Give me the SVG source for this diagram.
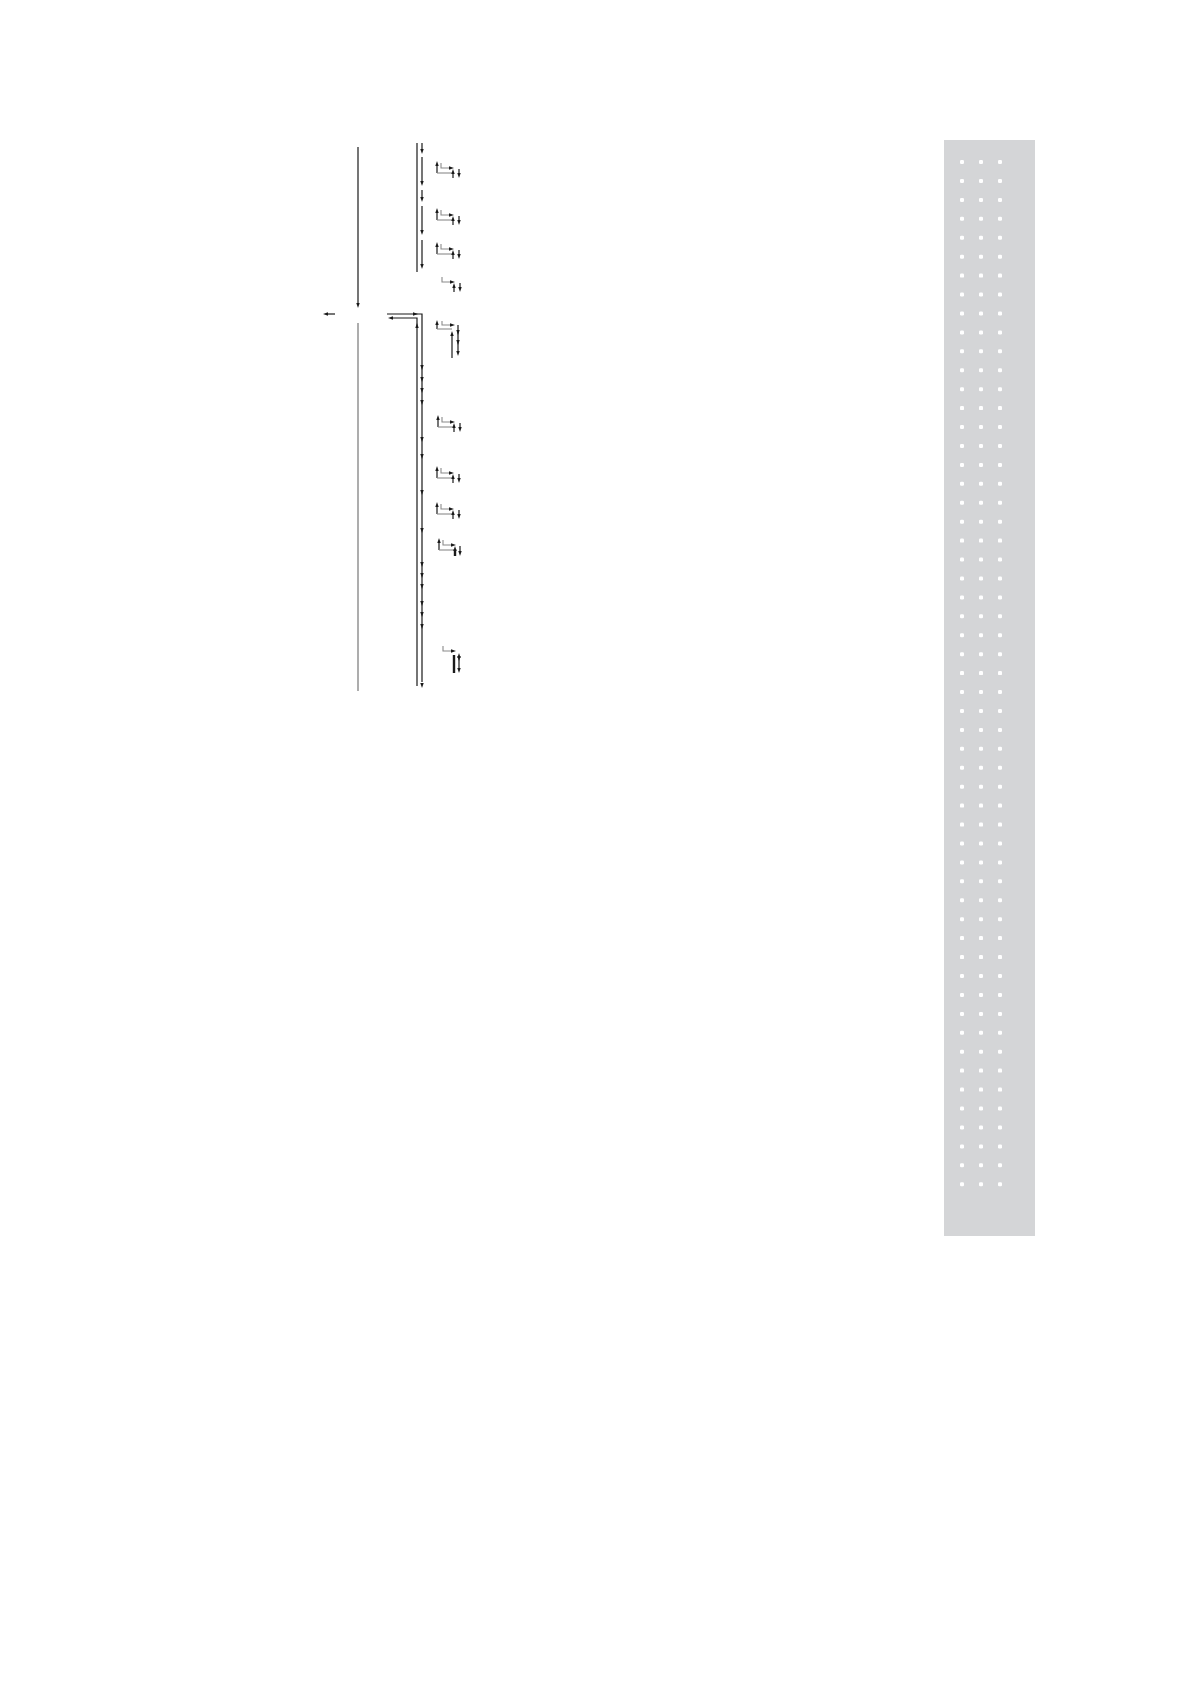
<svg xmlns="http://www.w3.org/2000/svg" xmlns:xlink="http://www.w3.org/1999/xlink" width="1190" height="1684" viewBox="0 0 1190 1684">
<style>
.ln{stroke:#1a1a1a;stroke-width:1.2;fill:none}
.gl{stroke:#8a8a8a;stroke-width:1.1;fill:none}
.lg{stroke:#6a6a6a;stroke-width:1.1;fill:none}
.ah{fill:#1a1a1a}
.dot{fill:#ffffff}
</style>
<defs>
<path id="ad" class="ah" d="M-1.7,-5 L1.7,-5 L0,0 Z"/>
<path id="au" class="ah" d="M-1.7,5 L1.7,5 L0,0 Z"/>
<path id="ar" class="ah" d="M-5,-1.7 L-5,1.7 L0,0 Z"/>
<path id="al" class="ah" d="M5,-1.7 L5,1.7 L0,0 Z"/>
<g id="row">
<rect class="dot" x="960" y="-2" width="4" height="4" rx="1.2"/>
<rect class="dot" x="979" y="-2" width="4" height="4" rx="1.2"/>
<rect class="dot" x="998" y="-2" width="4" height="4" rx="1.2"/>
</g>
<g id="icon">
<line class="ln" x1="0" y1="3" x2="0" y2="12"/>
<use xlink:href="#au" x="0" y="0"/>
<polyline class="gl" points="4,2 4,7 13,7"/>
<use xlink:href="#ar" x="17" y="7"/>
<line class="gl" x1="0" y1="12" x2="15" y2="12"/>
<line class="ln" x1="16" y1="11" x2="16" y2="17"/>
<use xlink:href="#au" x="16" y="8"/>
<line class="ln" x1="22" y1="8" x2="22" y2="13"/>
<use xlink:href="#ad" x="22" y="17"/>
</g>
<g id="icon2">
<polyline class="gl" points="4,2 4,7 13,7"/>
<use xlink:href="#ar" x="17" y="7"/>
<line class="ln" x1="16" y1="11" x2="16" y2="17"/>
<use xlink:href="#au" x="16" y="8"/>
<line class="ln" x1="22" y1="8" x2="22" y2="13"/>
<use xlink:href="#ad" x="22" y="17"/>
</g>
</defs>

<g id="panel">
<rect x="944" y="140" width="91" height="1096" fill="#d4d5d7"/>
<g id="dots">
<use xlink:href="#row" y="162.0"/>
<use xlink:href="#row" y="180.9"/>
<use xlink:href="#row" y="199.9"/>
<use xlink:href="#row" y="218.8"/>
<use xlink:href="#row" y="237.7"/>
<use xlink:href="#row" y="256.7"/>
<use xlink:href="#row" y="275.6"/>
<use xlink:href="#row" y="294.5"/>
<use xlink:href="#row" y="313.4"/>
<use xlink:href="#row" y="332.4"/>
<use xlink:href="#row" y="351.3"/>
<use xlink:href="#row" y="370.2"/>
<use xlink:href="#row" y="389.2"/>
<use xlink:href="#row" y="408.1"/>
<use xlink:href="#row" y="427.0"/>
<use xlink:href="#row" y="445.9"/>
<use xlink:href="#row" y="464.9"/>
<use xlink:href="#row" y="483.8"/>
<use xlink:href="#row" y="502.7"/>
<use xlink:href="#row" y="521.7"/>
<use xlink:href="#row" y="540.6"/>
<use xlink:href="#row" y="559.5"/>
<use xlink:href="#row" y="578.5"/>
<use xlink:href="#row" y="597.4"/>
<use xlink:href="#row" y="616.3"/>
<use xlink:href="#row" y="635.2"/>
<use xlink:href="#row" y="654.2"/>
<use xlink:href="#row" y="673.1"/>
<use xlink:href="#row" y="692.0"/>
<use xlink:href="#row" y="711.0"/>
<use xlink:href="#row" y="729.9"/>
<use xlink:href="#row" y="748.8"/>
<use xlink:href="#row" y="767.7"/>
<use xlink:href="#row" y="786.7"/>
<use xlink:href="#row" y="805.6"/>
<use xlink:href="#row" y="824.6"/>
<use xlink:href="#row" y="843.5"/>
<use xlink:href="#row" y="862.4"/>
<use xlink:href="#row" y="881.3"/>
<use xlink:href="#row" y="900.3"/>
<use xlink:href="#row" y="919.2"/>
<use xlink:href="#row" y="938.1"/>
<use xlink:href="#row" y="957.1"/>
<use xlink:href="#row" y="976.0"/>
<use xlink:href="#row" y="994.9"/>
<use xlink:href="#row" y="1013.9"/>
<use xlink:href="#row" y="1032.8"/>
<use xlink:href="#row" y="1051.7"/>
<use xlink:href="#row" y="1070.6"/>
<use xlink:href="#row" y="1089.6"/>
<use xlink:href="#row" y="1108.5"/>
<use xlink:href="#row" y="1127.4"/>
<use xlink:href="#row" y="1146.4"/>
<use xlink:href="#row" y="1165.3"/>
<use xlink:href="#row" y="1184.2"/>
</g>
</g>

<g id="connectors">
<line class="ln" x1="358" y1="147" x2="358" y2="303"/>
<use xlink:href="#ad" x="358" y="308"/>
<line class="lg" x1="358" y1="323" x2="358" y2="691"/>
<line class="ln" x1="326" y1="314" x2="335" y2="314"/>
<use xlink:href="#al" x="323" y="314"/>

<line class="ln" x1="417" y1="143" x2="417" y2="272"/>
<line class="ln" x1="422" y1="143" x2="422" y2="149"/>
<use xlink:href="#ad" x="422" y="154"/>
<line class="ln" x1="422" y1="157" x2="422" y2="181"/>
<use xlink:href="#ad" x="422" y="186"/>
<line class="ln" x1="422" y1="190" x2="422" y2="197"/>
<use xlink:href="#ad" x="422" y="202"/>
<line class="ln" x1="422" y1="206" x2="422" y2="230"/>
<use xlink:href="#ad" x="422" y="235"/>
<line class="ln" x1="422" y1="240" x2="422" y2="264"/>
<use xlink:href="#ad" x="422" y="269"/>

<polyline class="ln" points="387,314 422,314 422,682"/>
<use xlink:href="#ar" x="418" y="314"/>
<use xlink:href="#ad" x="422" y="688"/>
<polyline class="ln" points="417,686 417,318 392,318"/>
<use xlink:href="#al" x="388" y="318"/>
<use xlink:href="#au" x="417" y="323"/>

<use xlink:href="#ad" x="422" y="370"/>
<use xlink:href="#ad" x="422" y="382"/>
<use xlink:href="#ad" x="422" y="393"/>
<use xlink:href="#ad" x="422" y="405"/>
<use xlink:href="#ad" x="422" y="442"/>
<use xlink:href="#ad" x="422" y="459"/>
<use xlink:href="#ad" x="422" y="495"/>
<use xlink:href="#ad" x="422" y="533"/>
<use xlink:href="#ad" x="422" y="567"/>
<use xlink:href="#ad" x="422" y="578"/>
<use xlink:href="#ad" x="422" y="589"/>
<use xlink:href="#ad" x="422" y="606"/>
<use xlink:href="#ad" x="422" y="617"/>
<use xlink:href="#ad" x="422" y="629"/>
</g>

<g id="node-u1"><use xlink:href="#icon" x="437" y="161"/></g>
<g id="node-u2"><use xlink:href="#icon" x="437" y="208"/></g>
<g id="node-u3"><use xlink:href="#icon" x="437" y="242"/></g>
<g id="node-u4"><use xlink:href="#icon2" x="438" y="275"/></g>

<g id="node-l1">
<line class="ln" x1="437" y1="323" x2="437" y2="329"/>
<use xlink:href="#au" x="437" y="320"/>
<polyline class="gl" points="442,321 442,325 450,325"/>
<use xlink:href="#ar" x="455" y="325"/>
<line class="gl" x1="437" y1="329" x2="452" y2="329"/>
<line class="ln" x1="452" y1="336" x2="452" y2="358"/>
<use xlink:href="#au" x="452" y="331"/>
<line class="ln" x1="458" y1="325" x2="458" y2="352"/>
<use xlink:href="#ad" x="458" y="335"/>
<use xlink:href="#ad" x="458" y="345"/>
<use xlink:href="#ad" x="458" y="356"/>
</g>
<g id="node-l2"><use xlink:href="#icon" x="438" y="415"/></g>
<g id="node-l3"><use xlink:href="#icon" x="437" y="466"/></g>
<g id="node-l4"><use xlink:href="#icon" x="437" y="502"/></g>
<g id="node-l5">
<line class="ln" x1="439" y1="541" x2="439" y2="550"/>
<use xlink:href="#au" x="439" y="538"/>
<polyline class="gl" points="443,540 443,545 452,545"/>
<use xlink:href="#ar" x="456" y="545"/>
<line class="gl" x1="439" y1="550" x2="454" y2="550"/>
<line stroke="#1a1a1a" stroke-width="2.4" x1="455" y1="549" x2="455" y2="556"/>
<use xlink:href="#au" x="455" y="546"/>
<line class="ln" x1="460" y1="546" x2="460" y2="551"/>
<use xlink:href="#ad" x="460" y="556"/>
</g>
<g id="node-l6">
<polyline class="gl" points="443,646 443,651 451,651"/>
<use xlink:href="#ar" x="456" y="651"/>
<line stroke="#1a1a1a" stroke-width="2.4" x1="454" y1="655" x2="454" y2="673"/>
<line class="ln" x1="459" y1="657" x2="459" y2="669"/>
<use xlink:href="#au" x="459" y="653"/>
<use xlink:href="#ad" x="459" y="661"/>
<use xlink:href="#ad" x="459" y="673"/>
</g>
</svg>
